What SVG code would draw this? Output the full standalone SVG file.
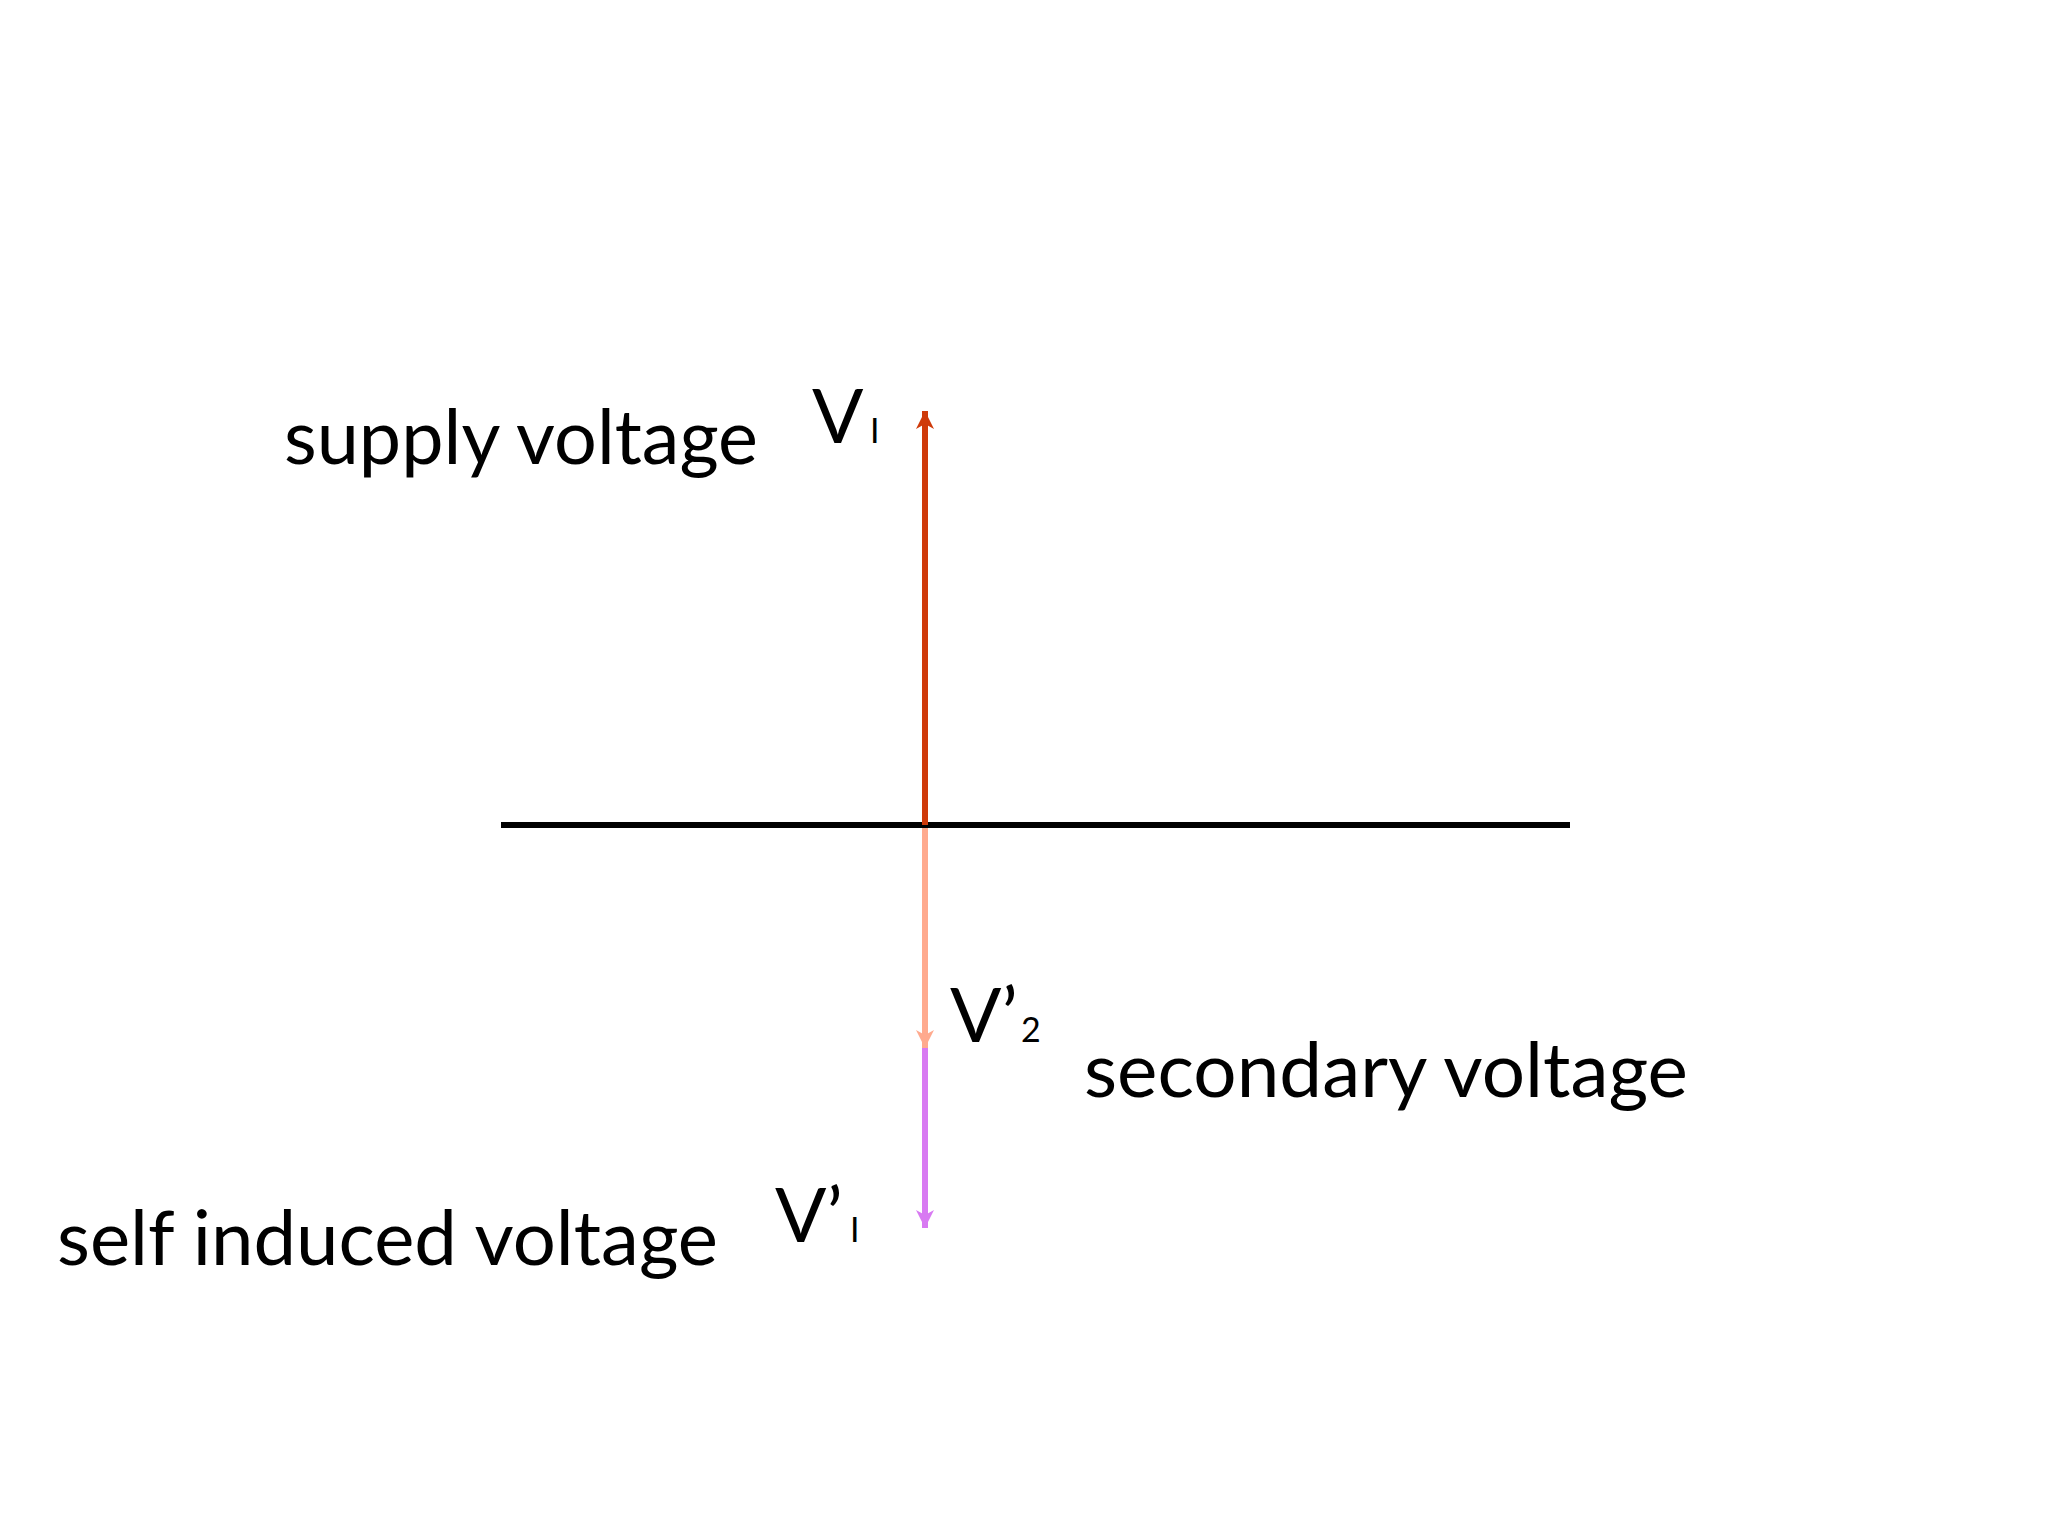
<svg xmlns="http://www.w3.org/2000/svg" width="2048" height="1536" viewBox="0 0 2048 1536">
<defs>
<style>
.t{font-family:"Lato","Open Sans","Liberation Sans",sans-serif;fill:#000}
.big{font-size:76px}
.sub{font-size:34px}
</style>
<marker id="hRed" viewBox="-20 -10 22 20" markerWidth="22" markerHeight="20" refX="0" refY="0" orient="auto" markerUnits="userSpaceOnUse"><path d="M0,0 L-18,-9 L-13,0 L-18,9 Z" fill="#CF3A0A"/></marker>
<marker id="hPink" viewBox="-20 -10 22 20" markerWidth="22" markerHeight="20" refX="0" refY="0" orient="auto" markerUnits="userSpaceOnUse"><path d="M0,0 L-18,-9 L-13,0 L-18,9 Z" fill="#FFAA8E"/></marker>
<marker id="hPurple" viewBox="-20 -10 22 20" markerWidth="22" markerHeight="20" refX="0" refY="0" orient="auto" markerUnits="userSpaceOnUse"><path d="M0,0 L-18,-9 L-13,0 L-18,9 Z" fill="#D87AF2"/></marker>
</defs>
<rect width="2048" height="1536" fill="#fff"/>
<g id="connectors">
<line id="axis" x1="501" y1="825" x2="1570" y2="825" stroke="#000" stroke-width="6"/>
<line id="v1" x1="925" y1="825" x2="925" y2="411" stroke="#CF3A0A" stroke-width="6" marker-end="url(#hRed)"/>
<line id="v1p" x1="925" y1="828" x2="925" y2="1228" stroke="#D87AF2" stroke-width="6" marker-end="url(#hPurple)"/>
<line id="v2p" x1="925" y1="828" x2="925" y2="1048" stroke="#FFAA8E" stroke-width="6" marker-end="url(#hPink)"/>
</g>
<g id="label-supply"><text class="t big" x="284" y="464" textLength="474" lengthAdjust="spacingAndGlyphs">supply voltage</text></g>
<g id="label-V1"><text class="t big" x="812" y="443">V<tspan class="sub" x="870">I</tspan></text></g>
<g id="label-V2p"><text class="t big" x="950" y="1042">V’<tspan class="sub" x="1021">2</tspan></text></g>
<g id="label-secondary"><text class="t big" x="1084" y="1097" textLength="604" lengthAdjust="spacingAndGlyphs">secondary voltage</text></g>
<g id="label-V1p"><text class="t big" x="775" y="1242">V’<tspan class="sub" x="850">I</tspan></text></g>
<g id="label-self"><text class="t big" x="57" y="1265" textLength="661" lengthAdjust="spacingAndGlyphs">self induced voltage</text></g>
</svg>
